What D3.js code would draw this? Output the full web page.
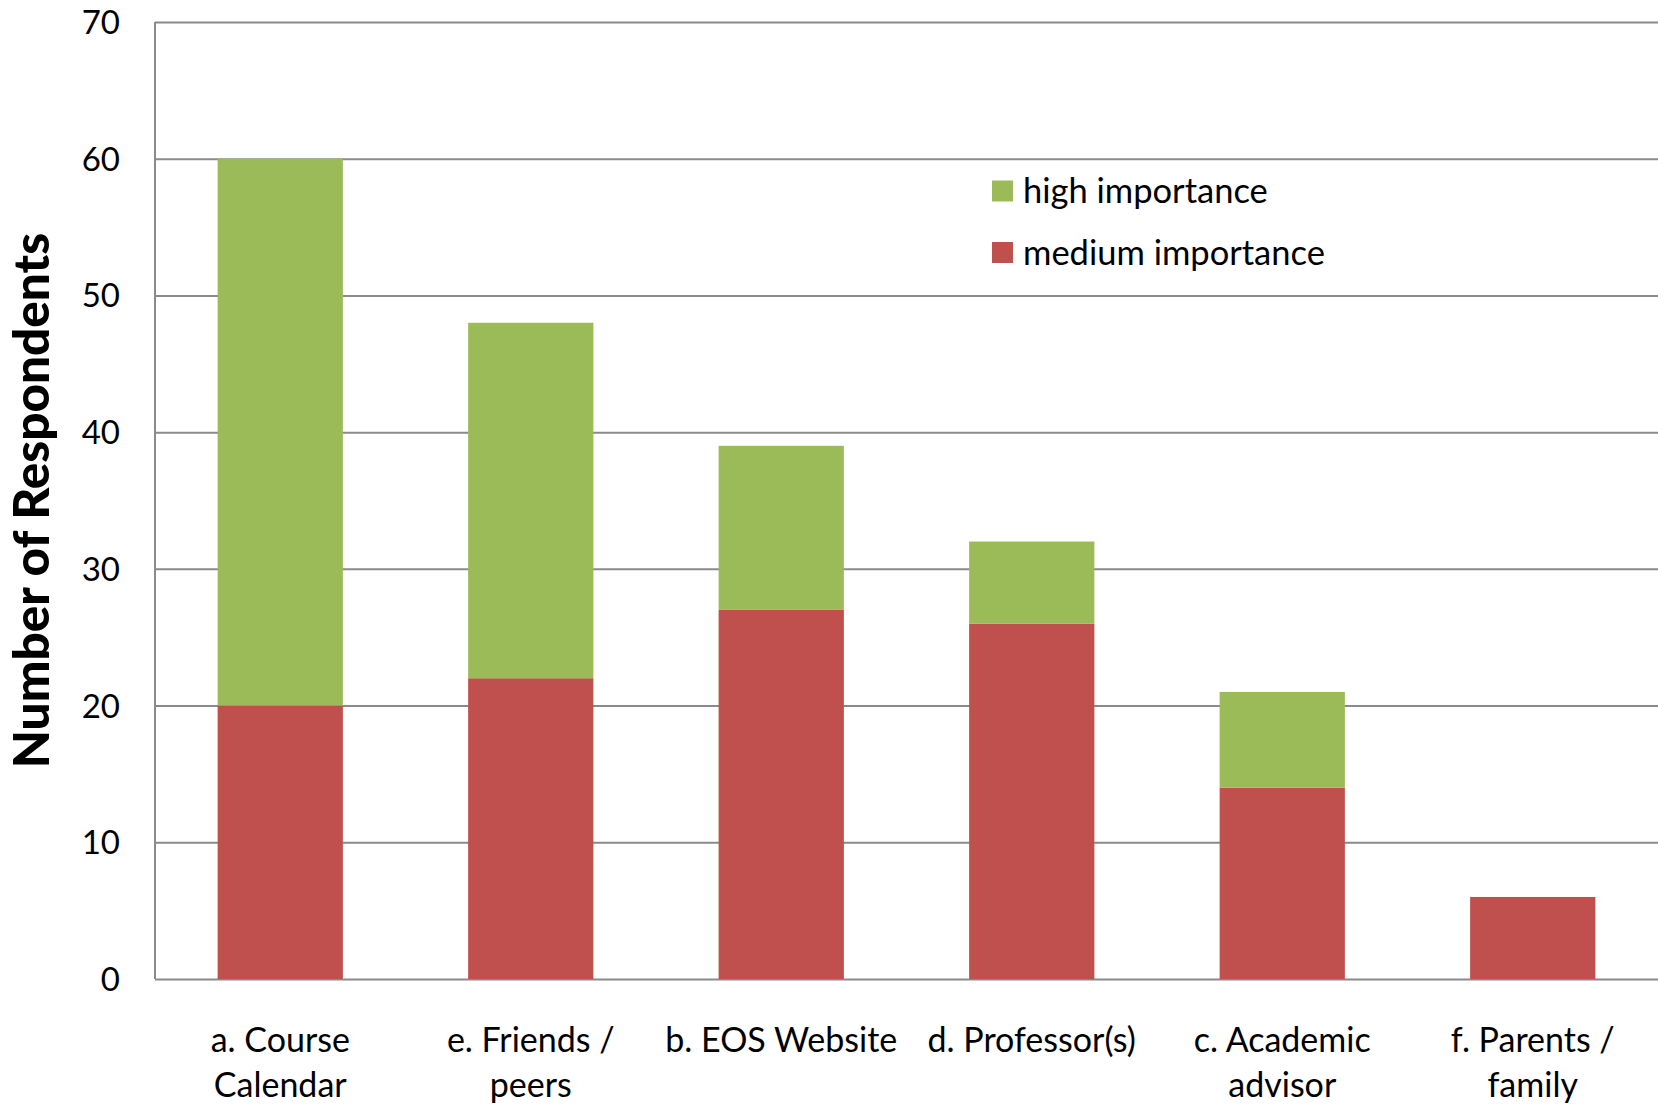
<!DOCTYPE html>
<html><head><meta charset="utf-8">
<script src="https://cdn.jsdelivr.net/npm/d3@7"></script>
<style>body{margin:0;background:#fff}svg{display:block}text{font-family:Lato,"Open Sans",sans-serif;fill:#000}</style>
</head><body>
<script>
const categories = ["a. Course|Calendar","e. Friends /|peers","b. EOS Website","d. Professor(s)","c. Academic|advisor","f. Parents /|family"];
const mediumValues = [20,22,27,26,14,6];
const highValues = [40,26,12,6,7,0];
const seriesNames = ["high importance","medium importance"];
const yTicks = [0,10,20,30,40,50,60,70];

const W=1658,H=1104;
const m={l:155,r:0,t:22,b:125};
const svg=d3.select("body").append("svg").attr("width",W).attr("height",H);
const x=d3.scaleBand().domain(categories).range([m.l,W-m.r]).paddingInner(0.5).paddingOuter(0.25);
const y=d3.scaleLinear().domain([0,70]).range([H-m.b,m.t]);
const color={high:"#9BBB59",medium:"#C0504D"};

const grid=svg.append("g").attr("class","grid")
 .attr("transform",`translate(${m.l},0)`)
 .call(d3.axisLeft(y).tickValues(yTicks).tickSize(-(W-m.l)).tickFormat(""));
grid.select(".domain").remove();
grid.selectAll("line").attr("stroke","#8a8a8a").attr("stroke-width",2);

const data=categories.map((c,i)=>({c,medium:mediumValues[i],high:highValues[i]}));
const stack=d3.stack().keys(["medium","high"])(data);
svg.append("g").selectAll("g").data(stack).join("g")
 .attr("fill",d=>color[d.key])
 .selectAll("rect").data(d=>d).join("rect")
 .attr("x",d=>x(d.data.c)).attr("width",x.bandwidth())
 .attr("y",d=>y(d[1])).attr("height",d=>y(d[0])-y(d[1]));

svg.append("line").attr("x1",m.l).attr("x2",m.l).attr("y1",y(70)).attr("y2",y(0)).attr("stroke","#8a8a8a").attr("stroke-width",2);

const ya=svg.append("g").attr("transform",`translate(${m.l},0)`)
 .call(d3.axisLeft(y).tickValues(yTicks).tickSize(0).tickPadding(35));
ya.select(".domain").remove();
ya.selectAll("text").style("font-size","33px").style("font-family","Lato,'Open Sans',sans-serif").attr("fill","#000").attr("dy","0.35em");

const xa=svg.append("g");
categories.forEach(c=>{
  const lines=c.split("|");
  const t=xa.append("text").attr("text-anchor","middle").style("font-size","34px")
   .attr("x",x(c)+x.bandwidth()/2).attr("y",1040);
  lines.forEach((l,i)=>t.append("tspan").attr("x",x(c)+x.bandwidth()/2).attr("dy",i===0?"0.35em":"45px").text(l));
});

svg.append("text").attr("transform",`translate(32,${(y(0)+y(70))/2}) rotate(-90)`)
 .attr("text-anchor","middle").attr("dy","0.35em").style("font-size","49.5px").style("font-weight","900")
 .text("Number of Respondents");

const lg=svg.append("g");
seriesNames.forEach((n,i)=>{
  const yy=191+i*61.5;
  lg.append("rect").attr("x",992).attr("y",yy-10.5).attr("width",21).attr("height",21).attr("fill",i===0?color.high:color.medium);
  lg.append("text").attr("x",1023).attr("y",yy).attr("dy","0.35em").style("font-size","34.5px").text(n);
});
</script>
</body></html>
